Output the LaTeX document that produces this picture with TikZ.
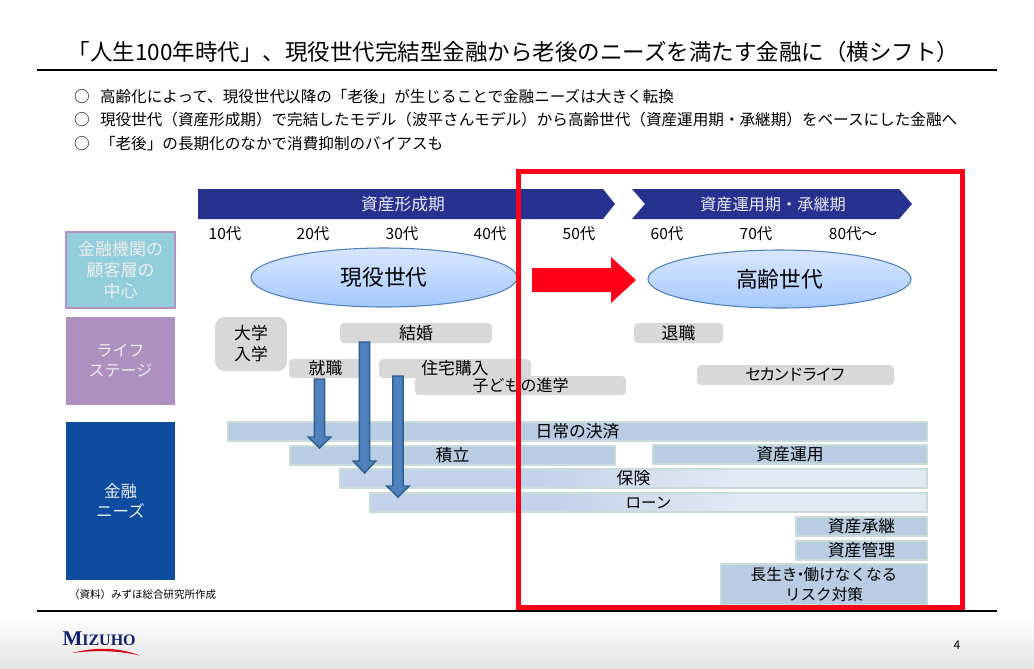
\documentclass[tikz,border=0pt]{standalone}
\usepackage{fontspec}
\setmainfont{Noto Sans CJK JP}
\newfontfamily\latinserif{Liberation Serif}
\newcommand\px[1]{\fontsize{\dimexpr#1pt*3/4\relax}{\dimexpr#1pt*15/16\relax}\selectfont}
\usetikzlibrary{shapes.geometric}
\definecolor{navy}{HTML}{27318F}
\definecolor{barfill}{HTML}{B8CCE4}
\definecolor{barline}{HTML}{CADCDA}
\definecolor{fadeA}{HTML}{C3D2EB}
\definecolor{fadeB}{HTML}{E2E8F4}
\definecolor{graybox}{HTML}{D8D8D8}
\definecolor{arrowfill}{HTML}{4F81BD}
\definecolor{arrowline}{HTML}{2F5F92}
\definecolor{redbox}{HTML}{FF0018}
\definecolor{ellTop}{HTML}{D8E7FF}
\definecolor{ellBot}{HTML}{A6C8FF}
\definecolor{sideA}{HTML}{92CDDC}
\definecolor{sideAline}{HTML}{B292C4}
\definecolor{sideB}{HTML}{AF8EC0}
\definecolor{sideC}{HTML}{0D4C9E}
\definecolor{logoblue}{HTML}{122070}
\pgfdeclarehorizontalshading{fadebarshade}{100bp}{color(0bp)=(fadeA); color(42bp)=(fadeA); color(58bp)=(fadeB); color(100bp)=(fadeB)}
\tikzset{
  x=0.75pt,y=-0.75pt,
  pboxbase/.style={inner sep=0pt,outer sep=0pt,align=center,text=black},
  sidebox/.style={pboxbase,text=white!93!black,font=\px{17}},
  lifebox/.style={pboxbase,fill=graybox,rounded corners=3pt,font=\px{16.8}},
  bar/.style={pboxbase,fill=barfill,draw=barline,line width=1.5pt,font=\px{16.8}},
  fadebar/.style={pboxbase,shade,shading=fadebarshade,draw=barline,line width=1.5pt,font=\px{16.8}},
  gen/.style={pboxbase,shape=ellipse,top color=ellTop,bottom color=ellBot,draw=arrowfill,line width=0.8pt,font=\px{21.7}},
  band/.style={fill=navy,draw=none},
  lbl/.style={inner sep=0pt,outer sep=0pt,text=black},
  bandtext/.style={inner sep=0pt,outer sep=0pt,text=white!90!navy},
}
\newcommand\pbox[7]{%
  \pgfmathsetmacro\cxv{(#2+#4)/2}\pgfmathsetmacro\cyv{(#3+#5)/2}%
  \pgfmathsetmacro\wv{(#4-#2)*0.75}\pgfmathsetmacro\hv{(#5-#3)*0.75}%
  \node[#6,minimum width=\wv pt,minimum height=\hv pt] (#1) at (\cxv,\cyv) {#7};}
\newcommand\blockarrow[4]{% centre x, top y, head start y, tip y
  \draw[fill=arrowfill,draw=arrowline,line width=1.1pt,line join=miter]
    (#1-5.2,#2) -- (#1+5.2,#2) -- (#1+5.2,#3) -- (#1+11.3,#3) -- (#1,#4) -- (#1-11.3,#3) -- (#1-5.2,#3) -- cycle;}
\begin{document}
\begin{tikzpicture}
\useasboundingbox (0,0) rectangle (1034,668);
\fill[white] (0,0) rectangle (1034,668);
\shade[top color=white,bottom color=black!10] (0,612) rectangle (1034,668);
% title
\node[lbl,font=\px{22.5}] (title) at (513.5,51.5) {「人生100年時代」、現役世代完結型金融から老後のニーズを満たす金融に（横シフト）};
\coordinate (tl) at (37,70); \coordinate (tr) at (997,70);
\draw[line width=1.5pt] (tl) -- (tr);
% bullets
\node[lbl,font=\px{15.6}] (b1) at (82,97) {○};
\node[lbl,font=\px{15.6}] (b2) at (82,120) {○};
\node[lbl,font=\px{15.6}] (b3) at (82,144) {○};
\node[lbl,anchor=west,font=\px{15.6}] (t1) at (100,97) {高齢化によって、現役世代以降の「老後」が生じることで金融ニーズは大きく転換};
\node[lbl,anchor=west,font=\px{15.6}] (t2) at (100,120) {現役世代（資産形成期）で完結したモデル（波平さんモデル）から高齢世代（資産運用期・承継期）をベースにした金融へ};
\node[lbl,anchor=west,font=\px{15.6}] (t3) at (100,144) {「老後」の長期化のなかで消費抑制のバイアスも};
% period bands
\fill[band] (198,189) -- (603,189) -- (615,204) -- (603,219) -- (198,219) -- cycle;
\fill[band] (632,189) -- (899,189) -- (912,204) -- (899,219) -- (632,219) -- (645,204) -- cycle;
\node[bandtext,font=\px{16.8}] (p1) at (403,204) {資産形成期};
\node[bandtext,font=\px{16.2}] (p2) at (773,204) {資産運用期・承継期};
% ages
\foreach \n/\xx/\s in {a1/225/10代,a2/313/20代,a3/402/30代,a4/490/40代,a5/579/50代,a6/667/60代,a7/756/70代,a8/853/80代～}
  \node[lbl,font=\px{15.5}] (\n) at (\xx,233.5) {\s};
% side boxes
\pbox{s1}{66}{232}{175}{308}{sidebox,fill=sideA,draw=sideAline,line width=1pt}{金融機関の\\顧客層の\\中心}
\pbox{s2}{66}{317}{175}{405}{sidebox,fill=sideB,font=\px{16}}{ライフ\\ステージ}
\pbox{s3}{66}{422}{175}{580}{sidebox,fill=sideC,font=\px{16.5}}{金融\\ニーズ}
% ellipses
\pbox{e1}{251}{248}{517}{307}{gen}{現役世代}
\pbox{e2}{648}{250}{911}{308}{gen}{高齢世代}
% red arrow
\fill[redbox] (532,268) -- (611,268) -- (611,257) -- (636,280) -- (611,303) -- (611,292) -- (532,292) -- cycle;
% life stage
\pbox{l1}{215}{317}{287}{371}{lifebox,rounded corners=7pt}{大学\\入学}
\pbox{l2}{340}{323}{492}{343}{lifebox}{結婚}
\pbox{l3}{289}{359}{362}{378}{lifebox}{就職}
\pbox{l4}{379}{359}{531}{378}{lifebox}{住宅購入}
\pbox{l5}{415}{376}{626}{395}{lifebox,font=\px{16}}{子どもの進学}
\pbox{l6}{634}{323}{723}{343}{lifebox}{退職}
\pbox{l7}{697}{365}{894}{385}{lifebox,font=\px{16}\addfontfeature{LetterSpace=-12}}{セカンドライフ}
% bars
\pbox{n1}{228}{422}{927}{441}{bar}{日常の決済}
\pbox{n2}{290}{446}{615}{465}{bar}{積立}
\pbox{n3}{653}{445}{927}{464}{bar}{資産運用}
\pbox{n4}{340}{469}{927}{488}{fadebar}{保険}
\pbox{n5}{370}{493}{927}{512}{fadebar,font=\px{15.5}}{ローン}
\pbox{n6}{796}{517}{927}{536}{bar}{資産承継}
\pbox{n7}{796}{541}{927}{560}{bar}{資産管理}
\pbox{n8}{721}{564}{927}{605}{bar,font=\px{15.6}}{長生き\hspace{-0.3em}・\hspace{-0.3em}働けなくなる\\リスク対策}
% block arrows
\blockarrow{319.5}{379}{437}{448}
\blockarrow{364.5}{342}{461}{473}
\blockarrow{398}{376}{486}{497}
% source
\node[lbl,anchor=west,font=\px{10.5}] (src) at (69,594) {（資料）みずほ総合研究所作成};
% bottom rule
\coordinate (bl) at (37,611); \coordinate (br) at (997,611);
\draw[line width=1.5pt] (bl) -- (br);
% red frame
\draw[redbox,line width=3.75pt] (518.5,171) rectangle (962.5,607.5);
% logo
\node[lbl,anchor=west,font=\latinserif\bfseries\px{21},text=logoblue] (logo) at (62.5,639) {M\px{16}IZUHO};
\fill[redbox!85!black] (72,653) .. controls (95,647) and (118,647) .. (140,655.5) .. controls (118,650.5) and (95,650) .. (72,653) -- cycle;
% page number
\node[lbl,font=\px{12}] (pg) at (957,645) {4};
\end{tikzpicture}
\end{document}
